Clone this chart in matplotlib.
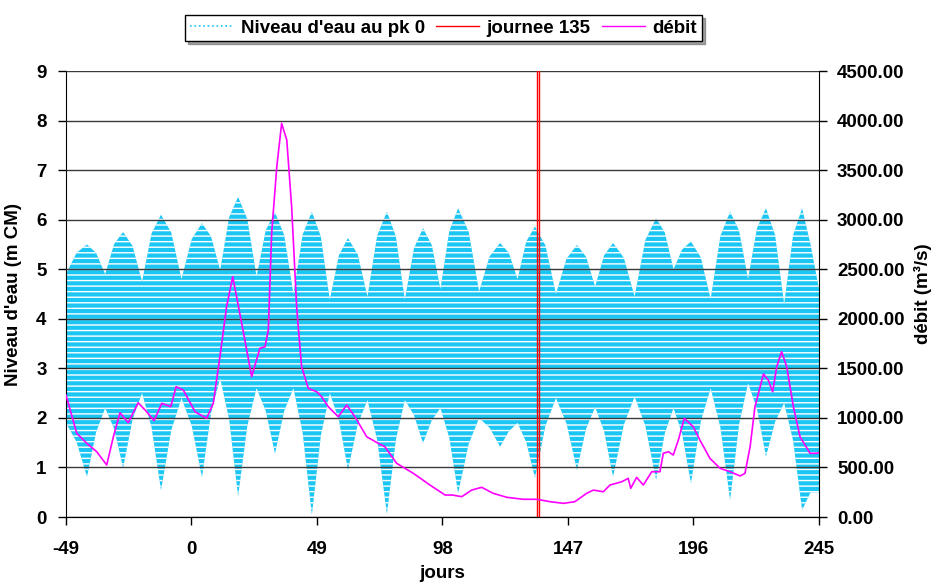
import numpy as np
import matplotlib.pyplot as plt
from matplotlib.lines import Line2D

plt.rcParams['font.family'] = ['Liberation Sans', 'DejaVu Sans']
plt.rcParams['font.weight'] = 'bold'
plt.rcParams['axes.labelweight'] = 'bold'
plt.rcParams['font.size'] = 13.5
plt.rcParams['axes.unicode_minus'] = False
plt.rcParams['hatch.linewidth'] = 1.0

# water level envelope (highs / lows of the tide), m CM
tide_days = [-49, -44.9, -40.8, -37.25, -33.7, -30.2, -26.7, -23.0, -19.3, -15.6,
             -11.9, -7.9, -3.9, 0.1, 4.1, 7.65, 11.2, 14.7, 18.2, 21.8,
             25.4, 29.0, 32.6, 36.2, 39.8, 43.4, 47.0, 50.5, 54.0, 57.55,
             61.1, 64.9, 68.7, 72.5, 76.3, 79.8, 83.3, 86.85, 90.4, 93.8,
             97.2, 100.65, 104.1, 108.2, 112.3, 116.4, 120.5, 123.9, 127.3, 130.7,
             134.1, 138.2, 142.3, 146.4, 150.5, 154.05, 157.6, 161.1, 164.6, 168.8,
             173.0, 177.2, 181.4, 184.8, 188.2, 191.6, 195.0, 198.85, 202.7, 206.5,
             210.3, 213.8, 217.3, 220.8, 224.3, 227.85, 231.4, 234.9, 238.4, 241.7, 245]
tide_high = [4.9, 5.33, 5.5, 5.33, 4.9, 5.51, 5.75, 5.47, 4.75, 5.72,
             6.1, 5.74, 4.8, 5.61, 5.93, 5.66, 4.98, 6.05, 6.46, 6.01,
             4.85, 5.79, 6.15, 5.69, 4.5, 5.7, 6.16, 5.66, 4.38, 5.28,
             5.63, 5.3, 4.45, 5.68, 6.16, 5.66, 4.38, 5.42, 5.83, 5.49,
             4.6, 5.77, 6.23, 5.76, 4.55, 5.26, 5.53, 5.33, 4.8, 5.56,
             5.86, 5.48, 4.5, 5.21, 5.49, 5.25, 4.65, 5.28, 5.53, 5.23,
             4.45, 5.59, 6.03, 5.74, 5.0, 5.4, 5.56, 5.24, 4.4, 5.67,
             6.16, 5.78, 4.8, 5.83, 6.23, 5.69, 4.3, 5.69, 6.23, 5.5, 4.6]
tide_low = [1.9, 1.52, 0.81, 1.71, 2.2, 1.78, 0.99, 1.97, 2.5, 1.81,
            0.54, 1.75, 2.4, 1.84, 0.8, 2.1, 2.8, 1.97, 0.42, 1.84,
            2.6, 2.14, 1.28, 2.14, 2.6, 1.7, 0.04, 1.64, 2.5, 1.96,
            0.95, 1.87, 2.36, 1.56, 0.06, 1.56, 2.36, 2.06, 1.49, 1.95,
            2.2, 1.6, 0.48, 1.47, 2.0, 1.8, 1.42, 1.73, 1.9, 1.51,
            0.79, 1.84, 2.4, 1.89, 0.95, 1.78, 2.22, 1.73, 0.81, 1.86,
            2.43, 1.84, 0.75, 1.69, 2.2, 1.67, 0.68, 1.93, 2.6, 1.81,
            0.34, 1.87, 2.7, 2.18, 1.22, 1.92, 2.3, 1.54, 0.14, 0.5, 0.5]

# river discharge, m3/s
flow_days = [-49, -44.8, -40.9, -37.0, -33.1, -30.5, -27.9, -24.7, -20.8, -17.5,
             -14.6, -11.6, -8.1, -6.0, -3.2, 1.4, 5.9, 8.5, 11.1, 13.7,
             16.1, 19.6, 23.5, 26.7, 28.7, 30.0, 31.3, 33.3, 35.2, 37.2,
             39.1, 41.1, 43.0, 45.6, 48.9, 50.8, 53.4, 57.3, 60.6, 63.8,
             68.4, 72.9, 75.5, 80.1, 86.6, 93.1, 99.0, 101.9, 105.5, 109.4,
             113.3, 117.8, 123.1, 129.5, 134.8, 140.0, 145.2, 149.7, 154.3, 156.9,
             160.8, 163.4, 168.0, 170.5, 171.5, 173.8, 176.4, 179.7, 182.9, 184.2,
             186.2, 188.1, 190.1, 192.4, 195.9, 198.5, 202.4, 206.4, 210.3, 214.2,
             216.1, 218.1, 220.0, 223.3, 225.2, 226.9, 228.5, 230.4, 232.4, 235.0,
             237.6, 241.5, 244.1, 245]
flow_vals = [1230, 845, 744, 659, 525, 810, 1052, 951, 1153, 1062,
             972, 1147, 1113, 1315, 1281, 1062, 996, 1147, 1617, 2122,
             2425, 1955, 1416, 1702, 1718, 1887, 2862, 3534, 3972, 3804,
             3131, 2100, 1516, 1298, 1264, 1214, 1113, 1012, 1130, 1012,
             810, 744, 709, 542, 441, 323, 222, 222, 205, 272,
             300, 239, 199, 179, 179, 155, 138, 155, 239, 272,
             255, 323, 356, 390, 290, 400, 323, 457, 457, 643,
             659, 626, 777, 996, 911, 777, 592, 491, 457, 414,
             441, 709, 1113, 1443, 1382, 1264, 1516, 1668, 1516, 1113,
             810, 643, 643, 650]

day_mark = 135
x_ticks = [-49, 0, 49, 98, 147, 196, 245]

cyan = '#1CC6F4'

fig = plt.figure(figsize=(9.36, 5.86), dpi=100)
ax = fig.add_axes([0.0705, 0.1177, 0.8045, 0.7611])

ax.fill_between(tide_days, tide_low, tide_high, facecolor=cyan, edgecolor='none', zorder=1)
ax.fill_between(tide_days, tide_low, tide_high, facecolor='none', edgecolor='white',
                hatch='---', linewidth=0, zorder=1.5)
ax.plot([day_mark, day_mark, np.nan, day_mark + 0.8, day_mark + 0.8], [0, 9, np.nan, 9, 0],
        color='red', lw=1, zorder=3)

ax.set_xlim(-49, 245)
ax.set_ylim(0, 9)
ax.set_xticks(x_ticks)
ax.set_yticks(range(10))
ax.yaxis.grid(True, color='#3a3a3a', lw=1, zorder=2)
ax.set_axisbelow(False)
ax.spines['top'].set_visible(False)
ax.spines['right'].set_visible(False)
ax.tick_params(direction='out', length=6, width=1)
ax.tick_params(axis='y', pad=8)
ax.tick_params(axis='x', pad=11)
ax.set_ylabel("Niveau d'eau (m CM)", labelpad=10)
ax.set_xlabel('jours', labelpad=5)

ax2 = ax.twinx()
ax2.plot(flow_days, flow_vals, color='#FF00FF', lw=1.2)
ax2.set_ylim(0, 4500)
ax2.set_yticks(np.arange(0, 4501, 500))
ax2.set_yticklabels([f'{v:.2f}' for v in np.arange(0, 4501, 500)])
ax2.spines['top'].set_visible(False)
ax2.spines['left'].set_visible(False)
ax2.tick_params(direction='out', length=6, width=1, pad=7)
ax2.set_ylabel('débit (m³/s)', labelpad=7)

handles = [Line2D([], [], color=cyan, ls=':', lw=1.2),
           Line2D([], [], color='red', lw=1),
           Line2D([], [], color='#FF00FF', lw=1)]
labels = ["Niveau d'eau au pk 0", 'journee 135', 'débit']
leg = fig.legend(handles, labels, loc='center', bbox_to_anchor=(0.474, 0.952), ncol=3,
                 frameon=True, fancybox=False, shadow=True, edgecolor='black',
                 handlelength=2.3, columnspacing=0.6, borderpad=0.25, handletextpad=0.4)
leg.get_frame().set_linewidth(1)

fig.savefig('out.png', dpi=100)
